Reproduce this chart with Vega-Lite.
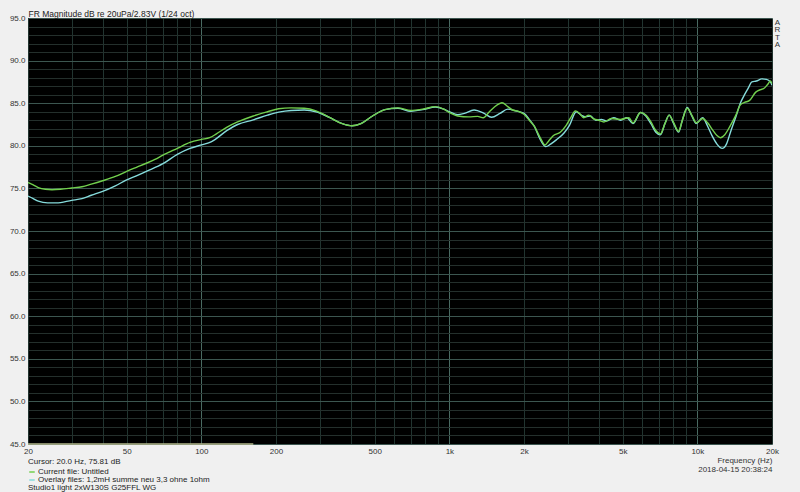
{
  "$schema": "https://vega.github.io/schema/vega-lite/v6.json",
  "width": 744,
  "height": 426,
  "autosize": {"type": "none"},
  "padding": {"left": 28, "top": 18, "right": 28, "bottom": 48},
  "background": "#f0f0f0",
  "config": {
    "font": "Liberation Sans",
    "view": {"fill": "#000000", "stroke": null},
    "axis": {"labelFont": "Liberation Sans", "titleFont": "Liberation Sans"}
  },
  "title": {
    "text": "Studio1 light 2xW130S G25FFL WG",
    "orient": "bottom",
    "anchor": "start",
    "frame": "group",
    "fontSize": 8,
    "fontWeight": "normal",
    "color": "#222222",
    "offset": 0,
    "baseline": "top"
  },
  "data": {
    "values": [
      {"s": "Overlay", "f": 20, "db": 74.1},
      {"s": "Overlay", "f": 21, "db": 73.8},
      {"s": "Overlay", "f": 22, "db": 73.5},
      {"s": "Overlay", "f": 24, "db": 73.3},
      {"s": "Overlay", "f": 26, "db": 73.3},
      {"s": "Overlay", "f": 30, "db": 73.6},
      {"s": "Overlay", "f": 33, "db": 73.8},
      {"s": "Overlay", "f": 36, "db": 74.2},
      {"s": "Overlay", "f": 40, "db": 74.65},
      {"s": "Overlay", "f": 45, "db": 75.3},
      {"s": "Overlay", "f": 50, "db": 76.0},
      {"s": "Overlay", "f": 55, "db": 76.5},
      {"s": "Overlay", "f": 60, "db": 77.0},
      {"s": "Overlay", "f": 70, "db": 77.9},
      {"s": "Overlay", "f": 80, "db": 79.0},
      {"s": "Overlay", "f": 90, "db": 79.7},
      {"s": "Overlay", "f": 100, "db": 80.1},
      {"s": "Overlay", "f": 110, "db": 80.5},
      {"s": "Overlay", "f": 127, "db": 81.8},
      {"s": "Overlay", "f": 140, "db": 82.5},
      {"s": "Overlay", "f": 162, "db": 83.05},
      {"s": "Overlay", "f": 185, "db": 83.6},
      {"s": "Overlay", "f": 205, "db": 83.95},
      {"s": "Overlay", "f": 230, "db": 84.15},
      {"s": "Overlay", "f": 260, "db": 84.2},
      {"s": "Overlay", "f": 290, "db": 84.0},
      {"s": "Overlay", "f": 330, "db": 83.3},
      {"s": "Overlay", "f": 370, "db": 82.6},
      {"s": "Overlay", "f": 405, "db": 82.35},
      {"s": "Overlay", "f": 440, "db": 82.6},
      {"s": "Overlay", "f": 490, "db": 83.5},
      {"s": "Overlay", "f": 550, "db": 84.25},
      {"s": "Overlay", "f": 620, "db": 84.4},
      {"s": "Overlay", "f": 700, "db": 84.05},
      {"s": "Overlay", "f": 780, "db": 84.25},
      {"s": "Overlay", "f": 880, "db": 84.55},
      {"s": "Overlay", "f": 950, "db": 84.3},
      {"s": "Overlay", "f": 1000, "db": 84.0},
      {"s": "Overlay", "f": 1080, "db": 83.65},
      {"s": "Overlay", "f": 1150, "db": 83.8},
      {"s": "Overlay", "f": 1258, "db": 84.2},
      {"s": "Overlay", "f": 1380, "db": 83.8},
      {"s": "Overlay", "f": 1480, "db": 83.35},
      {"s": "Overlay", "f": 1600, "db": 83.8},
      {"s": "Overlay", "f": 1720, "db": 84.3},
      {"s": "Overlay", "f": 1850, "db": 84.1},
      {"s": "Overlay", "f": 2000, "db": 83.8},
      {"s": "Overlay", "f": 2100, "db": 83.1},
      {"s": "Overlay", "f": 2200, "db": 82.3},
      {"s": "Overlay", "f": 2330, "db": 80.7},
      {"s": "Overlay", "f": 2450, "db": 79.9},
      {"s": "Overlay", "f": 2560, "db": 80.2},
      {"s": "Overlay", "f": 2700, "db": 80.7},
      {"s": "Overlay", "f": 2900, "db": 81.5},
      {"s": "Overlay", "f": 3050, "db": 82.4},
      {"s": "Overlay", "f": 3250, "db": 84.0},
      {"s": "Overlay", "f": 3400, "db": 83.6},
      {"s": "Overlay", "f": 3550, "db": 83.4},
      {"s": "Overlay", "f": 3700, "db": 83.5},
      {"s": "Overlay", "f": 3900, "db": 83.0},
      {"s": "Overlay", "f": 4100, "db": 83.1},
      {"s": "Overlay", "f": 4300, "db": 82.9},
      {"s": "Overlay", "f": 4600, "db": 83.3},
      {"s": "Overlay", "f": 4900, "db": 83.0},
      {"s": "Overlay", "f": 5200, "db": 83.3},
      {"s": "Overlay", "f": 5500, "db": 82.6},
      {"s": "Overlay", "f": 5900, "db": 83.9},
      {"s": "Overlay", "f": 6200, "db": 83.5},
      {"s": "Overlay", "f": 6500, "db": 82.6},
      {"s": "Overlay", "f": 6800, "db": 81.6},
      {"s": "Overlay", "f": 7100, "db": 81.3},
      {"s": "Overlay", "f": 7400, "db": 82.6},
      {"s": "Overlay", "f": 7700, "db": 83.6},
      {"s": "Overlay", "f": 8000, "db": 82.7},
      {"s": "Overlay", "f": 8400, "db": 81.6},
      {"s": "Overlay", "f": 8700, "db": 83.0},
      {"s": "Overlay", "f": 9100, "db": 84.5},
      {"s": "Overlay", "f": 9500, "db": 83.5},
      {"s": "Overlay", "f": 9900, "db": 82.6},
      {"s": "Overlay", "f": 10500, "db": 83.3},
      {"s": "Overlay", "f": 11000, "db": 82.3},
      {"s": "Overlay", "f": 11500, "db": 81.1},
      {"s": "Overlay", "f": 12000, "db": 80.2},
      {"s": "Overlay", "f": 12600, "db": 79.7},
      {"s": "Overlay", "f": 13100, "db": 80.2},
      {"s": "Overlay", "f": 13600, "db": 81.6},
      {"s": "Overlay", "f": 14300, "db": 83.4},
      {"s": "Overlay", "f": 14900, "db": 85.0},
      {"s": "Overlay", "f": 15500, "db": 86.0},
      {"s": "Overlay", "f": 16000, "db": 86.7},
      {"s": "Overlay", "f": 16600, "db": 87.5},
      {"s": "Overlay", "f": 17300, "db": 87.6},
      {"s": "Overlay", "f": 18200, "db": 87.85},
      {"s": "Overlay", "f": 19000, "db": 87.8},
      {"s": "Overlay", "f": 19700, "db": 87.5},
      {"s": "Overlay", "f": 20000, "db": 87.1},
      {"s": "Current", "f": 20, "db": 75.7},
      {"s": "Current", "f": 21, "db": 75.4},
      {"s": "Current", "f": 22, "db": 75.1},
      {"s": "Current", "f": 23.5, "db": 74.9},
      {"s": "Current", "f": 25, "db": 74.85},
      {"s": "Current", "f": 27, "db": 74.9},
      {"s": "Current", "f": 30, "db": 75.05},
      {"s": "Current", "f": 33, "db": 75.2},
      {"s": "Current", "f": 36, "db": 75.5},
      {"s": "Current", "f": 40, "db": 75.9},
      {"s": "Current", "f": 45, "db": 76.4},
      {"s": "Current", "f": 50, "db": 77.0},
      {"s": "Current", "f": 55, "db": 77.5},
      {"s": "Current", "f": 60, "db": 77.95},
      {"s": "Current", "f": 65, "db": 78.4},
      {"s": "Current", "f": 70, "db": 78.9},
      {"s": "Current", "f": 80, "db": 79.7},
      {"s": "Current", "f": 90, "db": 80.4},
      {"s": "Current", "f": 100, "db": 80.75},
      {"s": "Current", "f": 108, "db": 80.95},
      {"s": "Current", "f": 115, "db": 81.4},
      {"s": "Current", "f": 127, "db": 82.2},
      {"s": "Current", "f": 140, "db": 82.8},
      {"s": "Current", "f": 162, "db": 83.5},
      {"s": "Current", "f": 185, "db": 84.0},
      {"s": "Current", "f": 205, "db": 84.35},
      {"s": "Current", "f": 230, "db": 84.45},
      {"s": "Current", "f": 260, "db": 84.4},
      {"s": "Current", "f": 290, "db": 84.1},
      {"s": "Current", "f": 330, "db": 83.3},
      {"s": "Current", "f": 370, "db": 82.6},
      {"s": "Current", "f": 405, "db": 82.35},
      {"s": "Current", "f": 440, "db": 82.6},
      {"s": "Current", "f": 490, "db": 83.5},
      {"s": "Current", "f": 550, "db": 84.25},
      {"s": "Current", "f": 620, "db": 84.45},
      {"s": "Current", "f": 700, "db": 84.15},
      {"s": "Current", "f": 780, "db": 84.3},
      {"s": "Current", "f": 880, "db": 84.6},
      {"s": "Current", "f": 950, "db": 84.3},
      {"s": "Current", "f": 1000, "db": 83.9},
      {"s": "Current", "f": 1080, "db": 83.5},
      {"s": "Current", "f": 1200, "db": 83.4},
      {"s": "Current", "f": 1300, "db": 83.45},
      {"s": "Current", "f": 1370, "db": 83.3},
      {"s": "Current", "f": 1450, "db": 84.0},
      {"s": "Current", "f": 1560, "db": 84.8},
      {"s": "Current", "f": 1630, "db": 85.05},
      {"s": "Current", "f": 1720, "db": 84.6},
      {"s": "Current", "f": 1800, "db": 84.2},
      {"s": "Current", "f": 1900, "db": 84.05},
      {"s": "Current", "f": 2000, "db": 83.7},
      {"s": "Current", "f": 2100, "db": 83.0},
      {"s": "Current", "f": 2200, "db": 82.3},
      {"s": "Current", "f": 2330, "db": 80.9},
      {"s": "Current", "f": 2430, "db": 80.1},
      {"s": "Current", "f": 2520, "db": 80.6},
      {"s": "Current", "f": 2630, "db": 81.2},
      {"s": "Current", "f": 2800, "db": 81.6},
      {"s": "Current", "f": 2960, "db": 82.4},
      {"s": "Current", "f": 3100, "db": 83.4},
      {"s": "Current", "f": 3220, "db": 84.1},
      {"s": "Current", "f": 3350, "db": 83.8},
      {"s": "Current", "f": 3480, "db": 83.3},
      {"s": "Current", "f": 3650, "db": 83.6},
      {"s": "Current", "f": 3800, "db": 83.2},
      {"s": "Current", "f": 4000, "db": 83.0},
      {"s": "Current", "f": 4200, "db": 82.8},
      {"s": "Current", "f": 4500, "db": 83.2},
      {"s": "Current", "f": 4900, "db": 83.1},
      {"s": "Current", "f": 5300, "db": 83.3},
      {"s": "Current", "f": 5500, "db": 82.7},
      {"s": "Current", "f": 5900, "db": 83.9},
      {"s": "Current", "f": 6200, "db": 83.6},
      {"s": "Current", "f": 6500, "db": 82.8},
      {"s": "Current", "f": 6800, "db": 81.8},
      {"s": "Current", "f": 7100, "db": 81.4},
      {"s": "Current", "f": 7400, "db": 82.6},
      {"s": "Current", "f": 7700, "db": 83.6},
      {"s": "Current", "f": 8000, "db": 82.8},
      {"s": "Current", "f": 8400, "db": 81.7},
      {"s": "Current", "f": 8700, "db": 83.0},
      {"s": "Current", "f": 9100, "db": 84.4},
      {"s": "Current", "f": 9500, "db": 83.6},
      {"s": "Current", "f": 9900, "db": 82.7},
      {"s": "Current", "f": 10500, "db": 83.2},
      {"s": "Current", "f": 11000, "db": 82.7},
      {"s": "Current", "f": 11500, "db": 81.9},
      {"s": "Current", "f": 12000, "db": 81.2},
      {"s": "Current", "f": 12400, "db": 80.95},
      {"s": "Current", "f": 12900, "db": 81.3},
      {"s": "Current", "f": 13600, "db": 82.4},
      {"s": "Current", "f": 14300, "db": 83.6},
      {"s": "Current", "f": 14900, "db": 84.8},
      {"s": "Current", "f": 15500, "db": 85.1},
      {"s": "Current", "f": 16200, "db": 85.3},
      {"s": "Current", "f": 17200, "db": 86.3},
      {"s": "Current", "f": 18000, "db": 86.6},
      {"s": "Current", "f": 18500, "db": 86.7},
      {"s": "Current", "f": 19200, "db": 87.2},
      {"s": "Current", "f": 19700, "db": 87.6},
      {"s": "Current", "f": 20000, "db": 87.3},
      {"s": "Base", "f": 20, "db": 45.0},
      {"s": "Base", "f": 162, "db": 45.0}
    ]
  },
  "layer": [
    {
      "transform": [{"filter": "datum.s != 'Base'"}],
      "mark": {"type": "line", "strokeWidth": 1.4, "clip": true, "interpolate": "monotone"},
      "encoding": {
        "x": {
          "field": "f",
          "type": "quantitative",
          "scale": {"type": "log", "domain": [20, 20000], "nice": false},
          "axis": {
            "values": [20, 30, 40, 50, 60, 70, 80, 90, 100, 200, 300, 400, 500, 600, 700, 800, 900, 1000, 2000, 3000, 4000, 5000, 6000, 7000, 8000, 9000, 10000, 20000],
            "labelExpr": "indexof([20,50,100,200,500,1000,2000,5000,10000,20000], datum.value) >= 0 ? (datum.value >= 1000 ? (datum.value/1000) + 'k' : '' + datum.value) : ''",
            "labelOverlap": false,
            "labelBound": false,
            "labelFlush": false,
            "labelFontSize": 8,
            "labelColor": "#333333",
            "labelPadding": 3,
            "ticks": false,
            "domain": false,
            "grid": true,
            "gridColor": {"condition": {"test": "datum.value == 100 || datum.value == 1000 || datum.value == 10000", "value": "#4a6a62"}, "value": "#213430"},
            "gridWidth": 1,
            "title": ["Frequency (Hz)", "2018-04-15  20:38:24"],
            "titleAnchor": "end",
            "titleAlign": "right",
            "titleBaseline": "top",
            "titleFontSize": 8,
            "titleFontWeight": "normal",
            "titleColor": "#333333",
            "titleLineHeight": 9,
            "titlePadding": 1
          }
        },
        "y": {
          "field": "db",
          "type": "quantitative",
          "scale": {"domain": [45, 95], "nice": false, "zero": false},
          "axis": {
            "values": [45, 46, 47, 48, 49, 50, 51, 52, 53, 54, 55, 56, 57, 58, 59, 60, 61, 62, 63, 64, 65, 66, 67, 68, 69, 70, 71, 72, 73, 74, 75, 76, 77, 78, 79, 80, 81, 82, 83, 84, 85, 86, 87, 88, 89, 90, 91, 92, 93, 94, 95],
            "labelExpr": "datum.value % 5 == 0 ? format(datum.value, '.1f') : ''",
            "labelOverlap": false,
            "labelBound": false,
            "labelFlush": false,
            "labelFontSize": 8,
            "labelColor": "#333333",
            "labelPadding": 3,
            "ticks": false,
            "domain": false,
            "grid": true,
            "gridColor": {"condition": {"test": "datum.value % 5 == 0", "value": "#3c5650"}, "value": "#242f2c"},
            "title": "FR Magnitude dB re 20uPa/2.83V (1/24 oct)",
            "titleAngle": 0,
            "titleX": 0,
            "titleY": -5,
            "titleAlign": "left",
            "titleBaseline": "middle",
            "titleFontSize": 8.5,
            "titleFontWeight": "normal",
            "titleColor": "#222222"
          }
        },
        "color": {
          "field": "s",
          "type": "nominal",
          "scale": {"domain": ["Current", "Overlay"], "range": ["#72d04e", "#86dcdc"]},
          "legend": {
            "orient": "none",
            "legendX": 0,
            "legendY": 440,
            "title": "Cursor: 20.0 Hz, 75.81 dB",
            "titleFontSize": 8,
            "titleFontWeight": "normal",
            "titleColor": "#222222",
            "titlePadding": 2,
            "labelExpr": "datum.label == 'Current' ? 'Current file: Untitled' : 'Overlay files: 1,2mH summe neu 3,3 ohne 1ohm'",
            "labelFontSize": 8,
            "labelColor": "#222222",
            "labelLimit": 0,
            "labelOffset": 2,
            "symbolType": "stroke",
            "symbolSize": 30,
            "symbolStrokeWidth": 1.5,
            "rowPadding": 0,
            "padding": 0
          }
        }
      }
    },
    {
      "transform": [{"filter": "datum.s == 'Base'"}],
      "mark": {"type": "line", "strokeWidth": 1.5, "color": "#b4b88c", "clip": false},
      "encoding": {
        "x": {"field": "f", "type": "quantitative"},
        "y": {
          "field": "db",
          "type": "quantitative",
          "axis": {
            "orient": "right",
            "labels": false,
            "ticks": false,
            "domain": false,
            "grid": false,
            "title": ["A", "R", "T", "A"],
            "titleAngle": 0,
            "titleX": 5,
            "titleY": 0,
            "titleAlign": "center",
            "titleBaseline": "top",
            "titleFontSize": 8,
            "titleFontWeight": "normal",
            "titleColor": "#333333",
            "titleLineHeight": 7.5
          }
        }
      }
    }
  ],
  "resolve": {"axis": {"y": "independent"}}
}
